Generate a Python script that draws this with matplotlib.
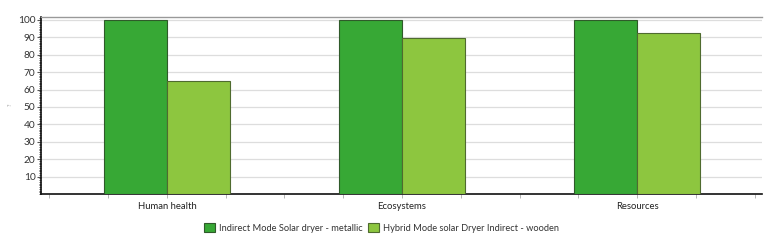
import matplotlib
matplotlib.use("Agg")
import matplotlib.pyplot as plt
import numpy as np
from matplotlib.ticker import MultipleLocator, FixedLocator

categories = ["Human health", "Ecosystems", "Resources"]
series_names = ["Indirect Mode Solar dryer - metallic", "Hybrid Mode solar Dryer Indirect - wooden"]
metallic = [100, 100, 100]
wooden = [65, 89.5, 92.7]
colors = ["#37a835", "#8dc63f"]
yticks = [10, 20, 30, 40, 50, 60, 70, 80, 90, 100]

plt.rcParams['font.family'] = ['Lato', 'DejaVu Sans']

fig = plt.figure(figsize=(7.84, 2.46), dpi=100)
ax = fig.add_axes([0.0523, 0.2114, 0.972 - 0.0523, 0.9297 - 0.2114])

x = np.arange(len(categories))
w = 0.268
ax.bar(x - w / 2, metallic, w, color=colors[0], edgecolor="#2f5a2a", linewidth=0.8,
       label=series_names[0], zorder=3)
ax.bar(x + w / 2, wooden, w, color=colors[1], edgecolor="#4f6b2f", linewidth=0.8,
       label=series_names[1], zorder=3)

ax.set_xlim(-0.536, 2.532)
ax.set_ylim(0, 101.5)

ax.set_yticks(yticks)
ax.set_yticklabels([str(v) for v in yticks], fontsize=7.3, color="#333333")
ax.yaxis.set_minor_locator(MultipleLocator(1))
ax.tick_params(axis="y", which="major", length=3, width=0.8, color="#555555", pad=1)
ax.tick_params(axis="y", which="minor", length=1.5, width=0.6, color="#444444")

ax.set_xticks(x)
ax.set_xticklabels(categories, fontsize=6.8, color="#222222")
ax.xaxis.set_minor_locator(FixedLocator(np.arange(-0.5, 2.51, 0.25)))
ax.tick_params(axis="x", which="both", length=3, width=0.6, color="#aaaaaa", pad=3)

ax.grid(axis="y", color="#dddddd", linewidth=0.9, zorder=0)
ax.set_axisbelow(True)

ax.spines["right"].set_visible(False)
ax.spines["top"].set_color("#999999")
ax.spines["top"].set_linewidth(1.0)
ax.spines["left"].set_color("#111111")
ax.spines["left"].set_linewidth(1.2)
ax.spines["bottom"].set_color("#111111")
ax.spines["bottom"].set_linewidth(1.2)

fig.text(10 / 784, 1 - 105 / 246, "?", fontsize=4, color="#999999",
         ha="center", va="center", rotation=90)

fig.legend(loc="center", bbox_to_anchor=(0.487, 0.073), ncol=2, frameon=False,
           fontsize=6.7, handlelength=1.1, handleheight=1.1, handletextpad=0.5,
           columnspacing=0.6, labelcolor="#333333")

fig.savefig("out.png", dpi=100)
